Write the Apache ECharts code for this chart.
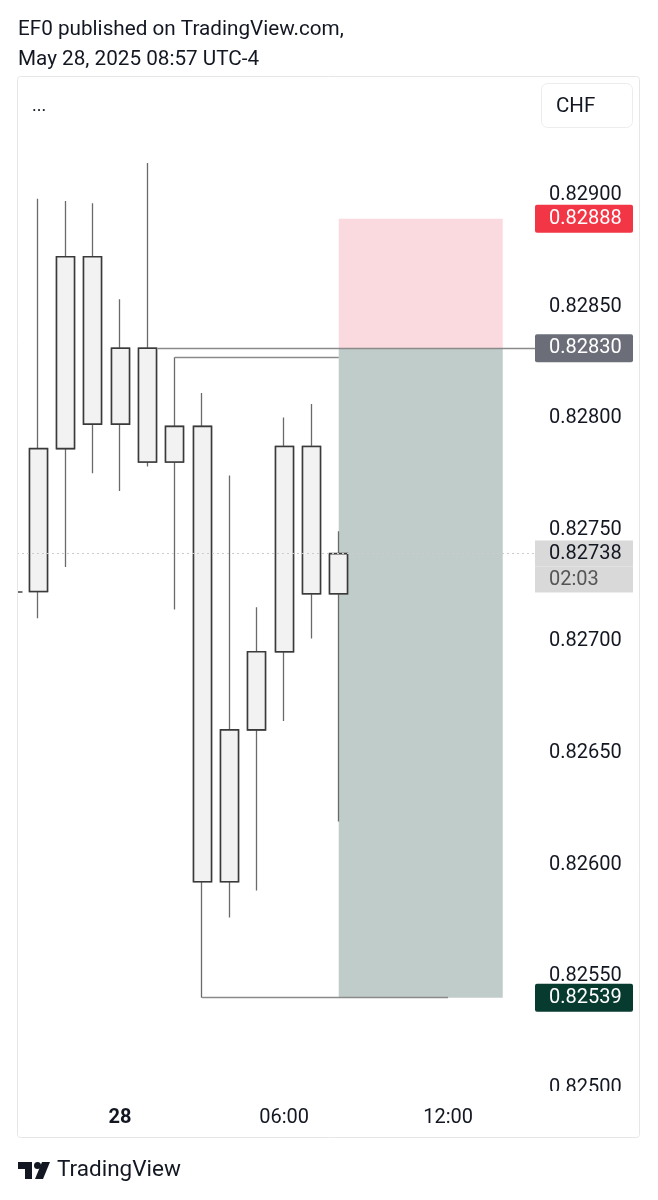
<!DOCTYPE html>
<html><head><meta charset="utf-8">
<script src="https://cdn.jsdelivr.net/npm/echarts@6/dist/echarts.min.js"></script>
<style>html,body{margin:0;padding:0;background:#fff}#c{width:658px;height:1200px}</style>
</head><body><div id="c"></div>
<script>
// ---- data ----
const candleIdx = [0,1,2,3,4,5,6,7,8,9,10,11];
const opens  = [0.82721,0.82785,0.82871,0.82796,0.82830,0.82779,0.82795,0.82591,0.82659,0.82694,0.82786,0.82720];
const closes = [0.82785,0.82871,0.82796,0.82830,0.82779,0.82795,0.82591,0.82659,0.82694,0.82786,0.82720,0.82738];
const lows   = [0.82709,0.82732,0.82774,0.82766,0.82777,0.82713,0.82539,0.82575,0.82587,0.82663,0.82700,0.82618];
const highs  = [0.82897,0.82896,0.82895,0.82852,0.82913,0.82826,0.82810,0.82773,0.82714,0.82799,0.82805,0.82748];

const yTicks = [0.8250,0.8255,0.8260,0.8265,0.8270,0.8275,0.8280,0.8285,0.8290];
const xTickPos = [3,9,15];
const xTickLabels = ['28','06:00','12:00'];

const stopPrice = 0.82888, entryPrice = 0.82830, targetPrice = 0.82539, lastPrice = 0.82738;
const lastTimer = '02:03';
const posStart = 11, posEnd = 17;
const rayLevels = [0.82830, 0.82826, 0.82539];
const rayStarts = [4.37, 5, 6];
const rayEnds   = [null, 11, 15];
const stubLevel = 0.82721;

const xMin = -0.77, xMax = 18.18;
const yMin = 0.8249677, yMax = 0.8295197;

// ---- build ----
const FONT = 'Roboto';
const HIDDEN = {color:'rgba(0,0,0,0)', width:0};
const fullCandles = candleIdx.map((x,i)=>[x, opens[i], closes[i], lows[i], highs[i]]);
const bodyCandles = candleIdx.map((x,i)=>[x, opens[i], closes[i], Math.min(opens[i],closes[i]), Math.max(opens[i],closes[i])]);

function boxLabel(bg, color, val){
  return {show:true, opacity:1, position:'end', distance:0, formatter:()=>val.toFixed(5),
    backgroundColor:bg, color:color, fontFamily:FONT, fontSize:20, lineHeight:20,
    padding:[5,10,3,14], width:74, align:'left', verticalAlign:'middle', borderRadius:2};
}
function hline(y, label){
  return [{coord:[xMin, y], label:label}, {coord:[xMax, y]}];
}

const chart = echarts.init(document.getElementById('c'));
chart.setOption({
  animation:false,
  textStyle:{fontFamily:FONT},
  grid:{left:17, right:123, top:76, bottom:108},
  xAxis:{type:'value', min:xMin, max:xMax,
    axisLine:{show:false}, axisTick:{show:false}, splitLine:{show:false},
    axisLabel:{customValues:xTickPos, margin:16, fontSize:20, color:'#131722', fontFamily:FONT,
      formatter:(v)=>{const k=xTickPos.indexOf(Math.round(v)); const t=k>=0?xTickLabels[k]:''; return k===0?'{b|'+t+'}':t;},
      rich:{b:{fontWeight:'bold', fontSize:20, color:'#131722', fontFamily:FONT}}}},
  yAxis:{type:'value', position:'right', min:yMin, max:yMax, scale:true,
    axisLine:{show:false}, axisTick:{show:false}, splitLine:{show:false},
    axisLabel:{customValues:yTicks, formatter:(v)=>'{v|'+v.toFixed(5)+'}', margin:14, align:'left',
      rich:{v:{fontSize:20, color:'#131722', fontFamily:FONT, padding:[6,0,0,0]}}}},
  series:[
    {type:'candlestick', name:'wicks', z:2, barWidth:18.5, data:fullCandles, silent:true,
      itemStyle:{color:'#f2f2f2', color0:'#f2f2f2', borderColor:'#6a6a6a', borderColor0:'#6a6a6a', borderWidth:1.3}},
    {type:'candlestick', name:'bodies', z:3, barWidth:18.5, data:bodyCandles, silent:true,
      itemStyle:{color:'#f2f2f2', color0:'#f2f2f2', borderColor:'#3a3a3a', borderColor0:'#3a3a3a', borderWidth:1.6}},
    {type:'line', name:'rays', z:4, data:[], silent:true,
      markLine:{silent:true, symbol:['none','none'], label:{show:false},
        lineStyle:{color:'#8a8a8a', width:1.3, type:'solid'},
        data: rayLevels.map((y,i)=>[{coord:[rayStarts[i], y]}, {coord:[rayEnds[i]===null?xMax:rayEnds[i], y]}])
          .concat([[{coord:[xMin, stubLevel], lineStyle:{color:'#444', width:1.5}}, {coord:[xMin+0.2, stubLevel]}]])}},
    {type:'line', name:'lastline', z:5, data:[], silent:true,
      markLine:{silent:true, symbol:['none','none'],
        lineStyle:{color:'#cccccc', width:1, type:[2,3]},
        label:{show:false},
        data:[[{coord:[xMin,lastPrice]},{coord:[xMax,lastPrice]}]]}},
    {type:'line', name:'position', z:10, data:[], silent:true,
      markArea:{silent:true, data:[
        [{coord:[posStart, stopPrice], itemStyle:{color:'rgba(235,60,85,0.19)'}}, {coord:[posEnd, entryPrice]}],
        [{coord:[posStart, entryPrice], itemStyle:{color:'rgba(48,85,75,0.30)'}}, {coord:[posEnd, targetPrice]}]
      ]}},
    {type:'line', name:'labels', z:20, data:[], silent:true,
      markLine:{silent:true, symbol:['none','none'], lineStyle:HIDDEN,
        data:[
          hline(lastPrice, {show:true, opacity:1, position:'end', distance:0, align:'left', verticalAlign:'middle',
              formatter:()=>'{e| }\n{a|'+lastPrice.toFixed(5)+'}\n{b|'+lastTimer+'}',
              rich:{
                e:{height:26, lineHeight:26, fontSize:20, color:'rgba(0,0,0,0)'},
                a:{backgroundColor:'#d9d9d9', width:74, height:26, lineHeight:26, padding:[0,10,0,14], fontSize:20, color:'#131722', fontFamily:FONT},
                b:{backgroundColor:'#d9d9d9', width:74, height:26, lineHeight:26, padding:[0,10,0,14], fontSize:20, color:'#555555', fontFamily:FONT}
              }}),
          hline(stopPrice, boxLabel('#f23645','#ffffff', stopPrice)),
          hline(entryPrice, boxLabel('#6b6e79','#ffffff', entryPrice)),
          hline(targetPrice, boxLabel('#083b2f','#ffffff', targetPrice))
        ]}}
  ],
  graphic:[
    {type:'text', left:18, top:19, z:100, style:{text:'EF0 published on TradingView.com,', fontSize:20.7, fontFamily:FONT, fill:'#131722'}},
    {type:'text', left:18, top:49, z:100, style:{text:'May 28, 2025 08:57 UTC-4', fontSize:20.7, fontFamily:FONT, fill:'#131722'}},
    {type:'rect', z:100, shape:{x:17.5, y:76.5, width:622, height:1061, r:3}, style:{fill:'none', stroke:'#e6e6e6', lineWidth:1}},
    {type:'rect', z:100, shape:{x:536, y:1091, width:102, height:10}, style:{fill:'#ffffff'}},
    {type:'text', left:32, top:97, z:100, style:{text:'...', fontSize:18, fontFamily:FONT, fill:'#131722'}},
    {type:'rect', z:100, shape:{x:541.5, y:83.5, width:91, height:44, r:6}, style:{fill:'#ffffff', stroke:'#ececec', lineWidth:1}},
    {type:'text', left:556, top:96, z:101, style:{text:'CHF', fontSize:20.5, fontFamily:FONT, fill:'#131722'}},
    {type:'polygon', z:100, shape:{points:[[18,1162],[32,1162],[32,1179],[25,1179],[25,1169],[18,1169]]}, style:{fill:'#131722'}},
    {type:'circle', z:100, shape:{cx:37.5, cy:1165.5, r:3.5}, style:{fill:'#131722'}},
    {type:'polygon', z:100, shape:{points:[[42,1162],[50,1162],[43,1179],[35,1179]]}, style:{fill:'#131722'}},
    {type:'text', left:57, top:1159, z:100, style:{text:'TradingView', fontSize:22.5, fontFamily:FONT, fill:'#131722'}}
  ]
});
</script></body></html>
